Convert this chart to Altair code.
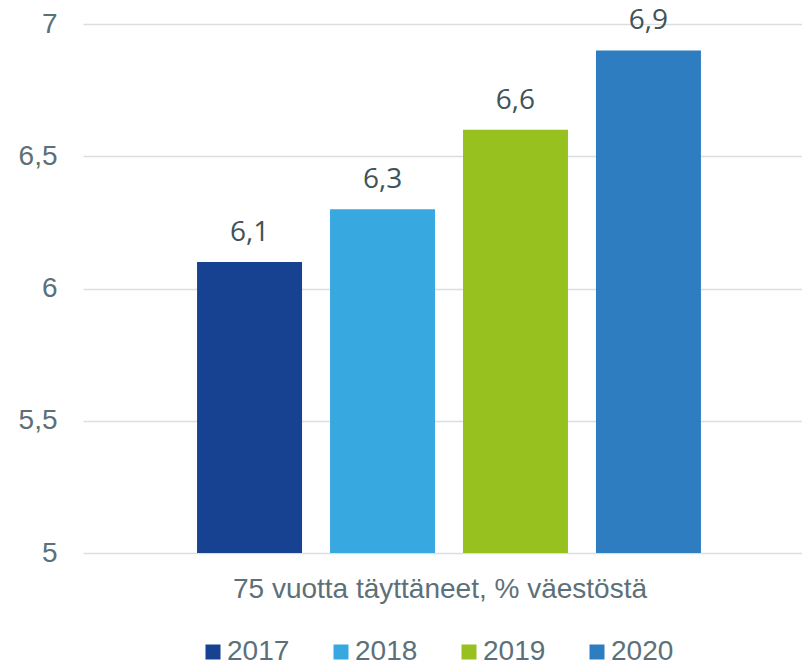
import altair as alt
import pandas as pd

category = "75 vuotta täyttäneet, % väestöstä"
years = ["2017", "2018", "2019", "2020"]
values = [6.1, 6.3, 6.6, 6.9]
colors = ["#174191", "#37A9E0", "#97C11E", "#2E7DC1"]
y_ticks = [5, 5.5, 6, 6.5, 7]

df = pd.DataFrame({"cat": [category] * len(years), "year": years, "value": values})

axis_color = "#5C7079"
label_color = "#415359"

x_enc = alt.X("cat:N",
              scale=alt.Scale(paddingOuter=0.0092, paddingInner=0, align=1),
              axis=alt.Axis(title=None, domain=False, ticks=False, labelAngle=0,
                            labelFontSize=28, labelFont="Liberation Sans", labelLimit=0,
                            labelColor=axis_color, labelPadding=22, labelOffset=-9))
xo_enc = alt.XOffset("year:N", sort=years,
                     scale=alt.Scale(paddingInner=0.2105, paddingOuter=0.76))
y_enc = alt.Y("value:Q",
              scale=alt.Scale(domain=[5, 7], zero=False, nice=False),
              axis=alt.Axis(title=None, values=y_ticks, format="~g",
                            labelExpr="replace(datum.label, '.', ',')",
                            domain=False, ticks=False, tickSize=0,
                            grid=True, gridColor="#D9DEE1", gridWidth=1.5,
                            labelFontSize=28, labelFont="Liberation Sans",
                            labelColor=axis_color, labelPadding=26))

base = alt.Chart(df)

bars = base.mark_bar(clip=True).encode(
    x=x_enc,
    xOffset=xo_enc,
    y=y_enc,
    color=alt.Color("year:N", sort=years,
                    scale=alt.Scale(domain=years, range=colors),
                    legend=alt.Legend(title=None, orient="none", legendX=116, legendY=614,
                                      direction="horizontal", columns=4, columnPadding=37,
                                      symbolType="square", symbolSize=225,
                                      symbolStrokeWidth=0, labelFontSize=28,
                                      labelFont="Liberation Sans", labelColor=axis_color,
                                      labelOffset=0, padding=0)),
)

labels = base.transform_calculate(
    lbl="replace(format(datum.value, '.1f'), '.', ',')"
).mark_text(baseline="alphabetic", dy=-21, fontSize=28, font="Open Sans",
            color=label_color).encode(
    x=alt.X("cat:N"),
    xOffset=alt.XOffset("year:N", sort=years),
    y=alt.Y("value:Q"),
    text="lbl:N",
)

chart = alt.layer(bars, labels).properties(
    width=719, height=529,
    autosize=alt.AutoSizeParams(type="none"),
    padding={"left": 75, "top": 16, "right": 0, "bottom": 113},
).configure_view(stroke=None)

chart.save("out.html", embed_options={"renderer": "svg", "actions": False})
